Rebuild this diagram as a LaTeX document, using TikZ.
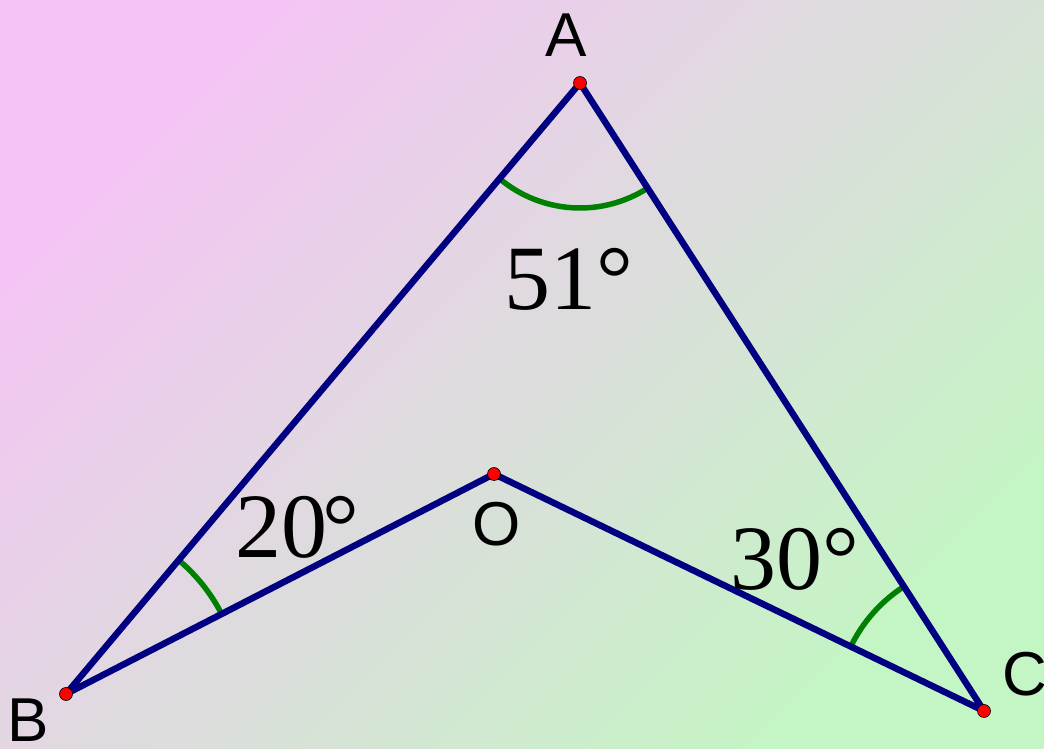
\documentclass[tikz,border=0pt]{standalone}
\usepackage{fontspec}
\setmainfont{Liberation Serif}
\setsansfont{Liberation Sans}
\usetikzlibrary{angles}
\definecolor{bgpink}{HTML}{F5C4F5}
\definecolor{bggray}{HTML}{E1E0E2}
\definecolor{bggreen}{HTML}{C4F5C4}
\definecolor{navy}{HTML}{000080}
\definecolor{arcgreen}{HTML}{008000}
\tikzset{
  side/.style={draw=navy,line width=6.5pt,line cap=round,line join=round},
  dot/.style={circle,fill=red,draw=black,line width=0.6pt,inner sep=0pt,minimum size=13pt},
  vlabel/.style={font=\sffamily\fontsize{62}{62}\selectfont,inner sep=0pt,anchor=base},
  deg/.style={font=\fontsize{92}{92}\selectfont,inner sep=0pt,anchor=base west},
  anglemark/.style={draw=arcgreen,line width=5.5pt},
}

\begin{document}
\begin{tikzpicture}[x=1pt,y=1pt]

% --- background
\shade[top color=bgpink,middle color=bggray,bottom color=bggreen,shading angle=45]
  (0,0) rectangle (1044,749);
\useasboundingbox (0,0) rectangle (1044,749);

% --- points
\coordinate (A) at (580,666);
\coordinate (B) at (66,55);
\coordinate (O) at (494,275);
\coordinate (C) at (984,38);

% --- angle marks
\pic[anglemark,angle radius=125pt] {angle=B--A--C};
\pic[anglemark,angle radius=175pt] {angle=O--B--A};
\pic[anglemark,angle radius=148pt] {angle=A--C--O};

% --- sides
\draw[side] (B) -- (A) -- (C) -- (O) -- cycle;

\node[dot] (a) at (A) {};
\node[dot] (b) at (B) {};
\node[dot] (o) at (O) {};
\node[dot] (c) at (C) {};

% --- labels
\node[vlabel] (la) at (566,692) {A};
\node[vlabel] (lb) at (28,7) {B};
\node[vlabel] (lo) at (497,203) {O};
\node[vlabel,anchor=base west] (lc) at (1002,53) {C};

\node[deg] (d51) at (504,439) {51°};
\node[deg] (d20) at (235,191) {20\kern-5pt°};
\node[deg] (d30) at (730,159) {30°};

\end{tikzpicture}
\end{document}
